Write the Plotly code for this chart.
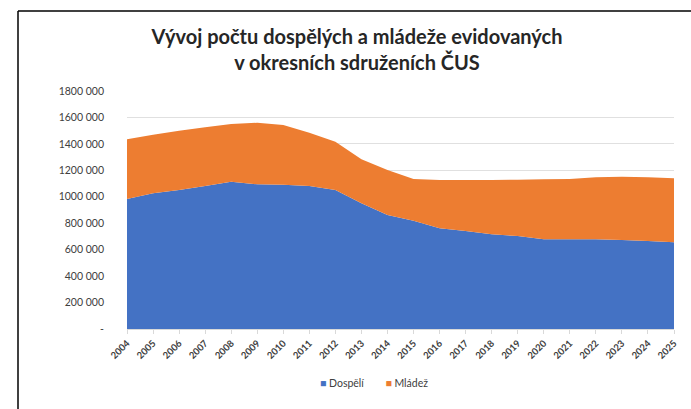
import plotly.graph_objects as go

years = list(range(2004, 2026))
dospeli = [983000, 1026000, 1051000, 1081000, 1114000, 1094000, 1091000, 1081000,
           1051000, 951000, 862000, 819000, 762000, 741000, 716000, 703000,
           678000, 678000, 678000, 673000, 665000, 656000]
mladez = [452000, 443000, 448000, 444000, 436000, 466000, 452000, 403000,
          365000, 333000, 340000, 315000, 365000, 386000, 411000, 426000,
          454000, 456000, 469000, 479000, 482000, 484000]
series_names = ["Dospělí", "Mládež"]
colors = ["#4472C4", "#ED7D31"]
ytick_vals = [0, 200000, 400000, 600000, 800000, 1000000, 1200000, 1400000, 1600000, 1800000]
ytick_text = ["-", "200 000", "400 000", "600 000", "800 000", "1000 000",
              "1200 000", "1400 000", "1600 000", "1800 000"]
title_text = "Vývoj počtu dospělých a mládeže evidovaných<br>v okresních sdruženích ČUS"

fig = go.Figure()
for name, vals, col in zip(series_names, [dospeli, mladez], colors):
    fig.add_trace(go.Scatter(x=years, y=vals, name=name, stackgroup="one",
                             mode="none", fillcolor=col, showlegend=False,
                             hoverinfo="x+y+name"))

L, R, T, B = 127, 17, 91, 80
W, H = 691, 409
pw, ph = W - L - R, H - T - B

def px_x(x):
    return (x - L) / pw

def px_y(y):
    return (H - B - y) / ph

legend_text = "&nbsp;&nbsp;&nbsp;&nbsp;&nbsp;&nbsp;&nbsp;&nbsp;".join(
    "<span style='color:%s'>■</span> %s" % (c, n) for n, c in zip(series_names, colors))

fig.update_layout(
    width=W, height=H,
    margin=dict(l=L, r=R, t=T, b=B, pad=0),
    paper_bgcolor="white", plot_bgcolor="white",
    font=dict(family="Lato, Open Sans, sans-serif", color="#404040"),
    title=dict(text="<b>" + title_text + "</b>", x=px_x(357), xref="paper",
               xanchor="center", y=1 - 44 / H, yanchor="middle",
               font=dict(size=20, color="#262626", family="Lato, sans-serif")),
    xaxis=dict(range=[2004, 2025], tickmode="array", tickvals=years,
               ticktext=["<b>%d</b>" % y for y in years], tickangle=-45,
               tickfont=dict(size=9.5, color="#404040", family="Lato, sans-serif"),
               showgrid=False, showline=True, linecolor="#d9d9d9", linewidth=1,
               ticks="outside", ticklen=4, tickcolor="#d9d9d9", zeroline=False,
               fixedrange=True),
    yaxis=dict(range=[0, 1800000], tickmode="array", tickvals=ytick_vals,
               ticktext=ytick_text, tickfont=dict(size=10.5, color="#404040"),
               showgrid=True, gridcolor="#e0e0e0", gridwidth=1, zeroline=False,
               showline=False, ticklabelstandoff=22, fixedrange=True),
    showlegend=False,
)

fig.add_annotation(text=legend_text, xref="paper", yref="paper",
                   x=px_x(374), y=px_y(383), xanchor="center", yanchor="middle",
                   showarrow=False, font=dict(size=10.5, color="#404040"))

# chart frame (top and left edges visible, right/bottom off-image)
fig.add_shape(type="line", xref="paper", yref="paper",
              x0=px_x(18), x1=px_x(700), y0=px_y(11), y1=px_y(11),
              line=dict(color="#000000", width=1.5))
fig.add_shape(type="line", xref="paper", yref="paper",
              x0=px_x(18), x1=px_x(18), y0=px_y(11), y1=px_y(420),
              line=dict(color="#000000", width=1.5))

fig.write_html("out.html", config={"displayModeBar": False},
               post_script="document.body.style.margin='0';")
